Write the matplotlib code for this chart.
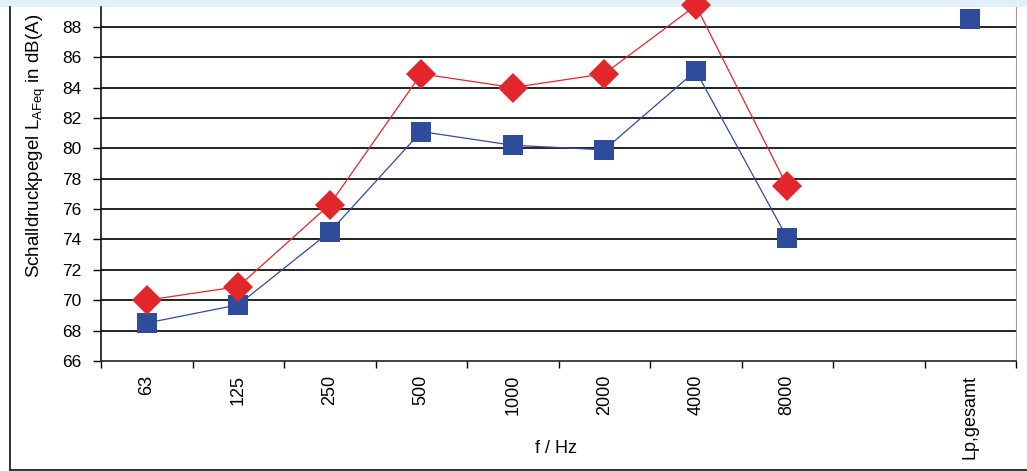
import numpy as np
import matplotlib.pyplot as plt
from matplotlib.patches import Rectangle
from matplotlib.lines import Line2D

# Frequenzbaender (plus leere Spalte und Gesamtpegel)
kategorien = ["63", "125", "250", "500", "1000", "2000", "4000", "8000", "", "Lp,gesamt"]
rot = [70.0, 70.9, 76.3, 84.9, 84.0, 84.9, 89.4, 77.5]
blau = [68.5, 69.7, 74.5, 81.1, 80.2, 79.9, 85.1, 74.1]
blau_gesamt = 88.5
y_ticks = [66, 68, 70, 72, 74, 76, 78, 80, 82, 84, 86, 88]

plt.rcParams['font.family'] = ['Liberation Sans', 'DejaVu Sans']

fig = plt.figure(figsize=(10.27, 4.71), dpi=100)
fig.patch.set_facecolor('white')
W, H = 1027, 471
# hellblauer Streifen oben, Rahmen links und unten
fig.add_artist(Rectangle((0, 1 - 7 / H), 1, 7 / H, transform=fig.transFigure,
                         facecolor='#dff0f8', edgecolor='none', zorder=-5))
fig.add_artist(Line2D([10 / W, 10 / W], [1 / H, 1 - 7 / H], transform=fig.transFigure,
                      color='#222222', linewidth=1.3))
fig.add_artist(Line2D([10 / W, 1], [1 / H, 1 / H], transform=fig.transFigure,
                      color='#222222', linewidth=1.3))

ax = fig.add_axes([101 / W, 1 - 361 / H, (1016 - 101) / W, (361 - 7) / H])
ax.set_zorder(1)
ax.set_facecolor('white')

x = np.arange(len(kategorien))
ax.plot(x[:len(rot)], rot, color='#e3262b', linewidth=0.9, marker='D', markersize=15,
        markeredgewidth=0, zorder=4, clip_on=False)
ax.plot(x[:len(blau)], blau, color='#2f4b9c', linewidth=0.9, marker='s', markersize=15,
        markeredgewidth=0, zorder=3)
ax.plot([x[-1]], [blau_gesamt], color='#2f4b9c', marker='s', markersize=15,
        markeredgewidth=0, linestyle='none', zorder=3)

ax.set_xlim(-0.5, len(kategorien) - 0.5)
ax.set_ylim(66, 89.3)
ax.set_yticks(y_ticks)
ax.set_yticklabels([str(v) for v in y_ticks], fontsize=12.5)
for v in y_ticks[1:]:
    ax.axhline(v, color='#111111', linewidth=1.3, zorder=1)

ax.set_xticks(np.arange(len(kategorien) + 1) - 0.5)
ax.set_xticklabels([])
ax.set_xticks(x, minor=True)
ax.set_xticklabels(kategorien, minor=True, rotation=90, fontsize=13, va='top')
ax.tick_params(axis='x', which='minor', length=0, pad=10)
ax.tick_params(axis='x', which='major', length=5, width=1, direction='out')
ax.tick_params(axis='y', length=6, width=1, direction='out', pad=8)

ax.spines['top'].set_visible(False)
ax.spines['right'].set_color('#999999')
ax.spines['left'].set_color('#111111')
ax.spines['bottom'].set_color('#222222')
for s in ['left', 'bottom']:
    ax.spines[s].set_linewidth(1.2)

ax.set_xlabel('f / Hz', fontsize=13)
ax.xaxis.set_label_coords(0.497, -0.222)
ax.set_ylabel('Schalldruckpegel L$_{\\mathregular{AFeq}}$ in dB(A)', fontsize=13.5)
ax.yaxis.set_label_coords(-0.058, 0.607)

fig.savefig('out.png', dpi=100, facecolor=fig.get_facecolor())
